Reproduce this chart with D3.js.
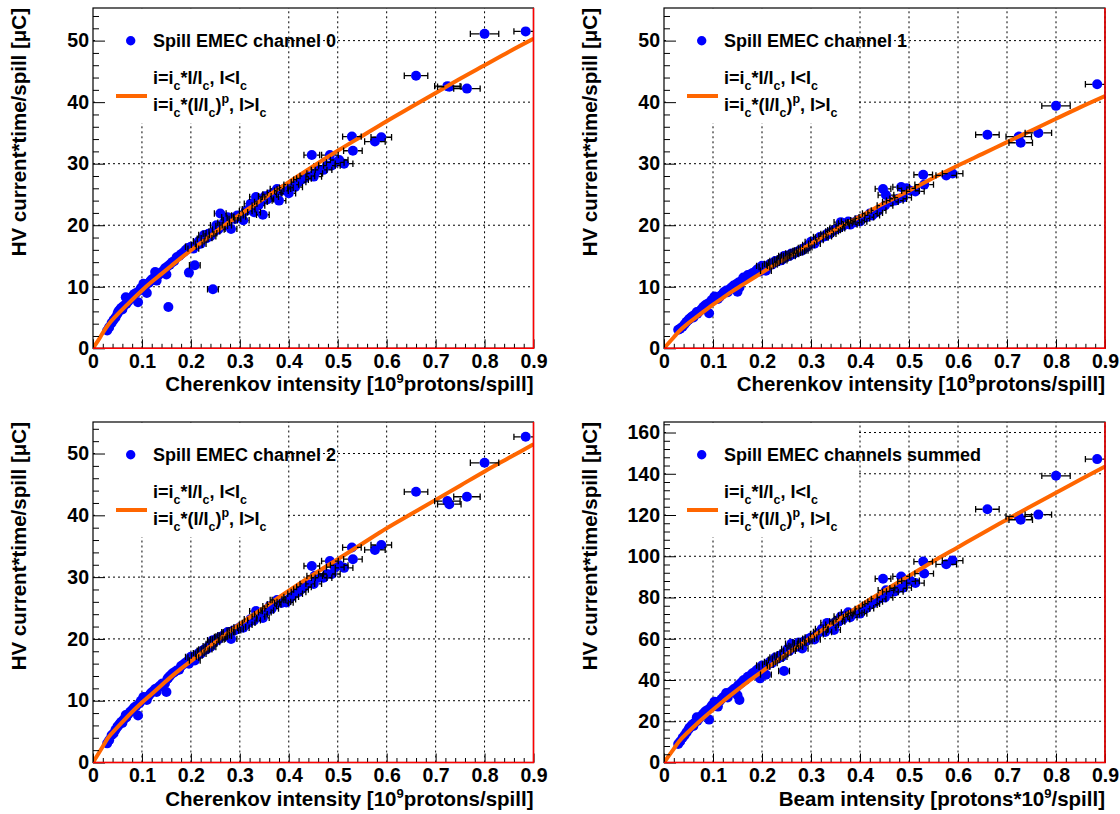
<!DOCTYPE html>
<html>
<head>
<meta charset="utf-8">
<script src="https://cdn.jsdelivr.net/npm/d3@7"></script>
<style>
  body { margin: 0; background: #fff; }
  svg text { font-family: "Liberation Sans", Arial, Helvetica, sans-serif; font-weight: bold; fill: #000; }
</style>
</head>
<body>
<svg id="chart" width="1120" height="814"></svg>
<script>
// spill intensities (same spills in every channel) and their horizontal errors
const intensity = [
  0.029,0.033,0.038,0.042,0.046,0.050,0.052,0.055,0.058,0.060,
  0.063,0.067,0.068,0.072,0.076,0.080,0.084,0.088,0.092,0.095,
  0.098,0.103,0.106,0.110,0.114,0.118,0.122,0.127,0.130,0.134,
  0.138,0.142,0.147,0.150,0.152,0.154,0.157,0.162,0.166,0.171,
  0.176,0.180,0.185,0.190,0.194,0.196,
  0.200,0.205,0.208,0.212,0.216,0.220,0.224,0.227,0.232,0.236,
  0.240,0.242,0.245,0.248,0.252,0.256,0.260,0.263,0.267,0.271,
  0.275,0.278,0.282,0.286,0.290,0.295,0.300,0.307,0.312,0.318,
  0.322,0.329,0.333,0.338,0.343,0.347,0.351,0.356,0.361,0.365,
  0.370,0.376,0.380,0.385,0.390,0.395,0.400,0.405,0.413,0.420,
  0.425,0.431,0.438,0.447,0.451,0.453,0.462,0.471,0.478,0.484,
  0.488,0.495,0.503,0.513,0.529,0.531,0.576,0.589,0.660,0.724,
  0.728,0.764,0.800,0.884
];
const intensityErr = [
  0,0,0,0,0,0,0,0,0,0, 0,0,0,0,0,0,0,0,0,0,
  0,0,0,0,0,0,0,0,0,0, 0,0,0,0,0,0,0,0,0,0,
  0,0,0,0,0,0,
  0.011,0.011,0.011,0.011,0.011,0.011,0.011,0.011,0.011,0.011,
  0.011,0.011,0.011,0.011,0.012,0.012,0.012,0.012,0.012,0.012,
  0.012,0.012,0.012,0.012,0.012,0.012,0.012,0.012,0.013,0.013,
  0.013,0.013,0.013,0.013,0.013,0.013,0.013,0.013,0.014,0.014,
  0.014,0.014,0.014,0.014,0.014,0.014,0.014,0.015,0.015,0.015,
  0.015,0.015,0.015,0.016,0.016,0.016,0.016,0.017,0.017,0.017,
  0.017,0.018,0.018,0.018,0.019,0.019,0.021,0.021,0.024,0.026,
  0.024,0.027,0.029,0.024
];

// HV current*time per spill [uC]
const chan0 = [
  2.9,3.4,4.1,4.6,5.0,5.6,6.0,6.3,6.6,6.3, 6.9,8.3,7.2,7.6,8.0,8.4,8.8,9.0,7.5,9.4,
  9.8,10.5,10.0,9.0,10.6,11.0,11.3,12.4,11.0,11.9, 12.2,12.5,13.0,12.0,13.3,6.7,13.6,14.0,14.2,14.8,
  15.0,15.3,15.6,16.0,16.3,12.3,
  16.5,16.2,13.5,16.8,17.4,17.0,17.8,18.4,17.9,18.6,
  18.2,18.7,9.6,19.0,20.0,19.3,21.9,19.9,20.4,20.0,
  21.3,20.8,19.4,21.2,21.0,21.6,21.4,20.8,22.3,22.6,
  23.5,22.1,24.6,23.2,23.8,21.7,24.7,24.2,25.0,24.6,
  25.3,25.9,24.0,25.6,25.9,26.1,25.2,26.6,26.2,27.0,
  27.4,27.6,28.0,31.4,27.9,28.4,29.0,29.0,29.7,31.4,
  29.7,30.2,30.6,30.0,34.4,32.1,33.6,34.3,44.3,42.6,
  42.5,42.2,51.1,51.5
];
const chan1 = [
  3.0,3.2,3.5,3.9,4.3,4.6,4.8,5.0,5.2,5.0, 5.5,5.9,5.6,6.0,6.3,6.7,7.0,7.2,5.7,7.6,
  7.9,8.4,8.2,8.0,8.4,8.7,9.1,9.4,9.1,9.6, 9.9,10.2,10.4,9.2,10.7,9.9,10.9,11.5,11.4,11.9,
  12.0,12.2,12.4,12.8,13.0,12.5,
  13.4,13.2,12.6,13.4,13.7,13.6,13.9,14.2,14.1,14.4,
  14.3,14.6,15.0,14.8,15.1,15.0,15.4,15.3,15.5,15.6,
  15.8,15.9,15.9,16.3,16.4,16.8,17.3,17.0,17.6,18.1,
  18.0,18.2,18.6,18.6,19.0,19.2,19.4,19.5,20.5,19.9,
  20.3,20.6,20.1,20.4,20.5,20.8,20.6,21.1,21.3,21.9,
  21.6,22.0,22.4,25.9,23.2,24.9,23.8,24.0,24.3,26.2,
  24.5,26.0,25.6,25.5,28.2,26.6,28.1,28.4,34.7,34.4,
  33.4,35.0,39.4,42.9
];
const chan2 = [
  3.1,3.6,4.4,4.7,5.3,5.8,6.0,6.3,6.6,6.4, 7.0,7.7,7.3,7.8,8.2,8.5,8.9,9.1,7.6,9.6,
  10.0,10.6,10.3,10.1,10.8,11.2,11.5,11.9,11.4,12.2, 12.5,12.8,12.8,11.4,13.5,13.7,14.0,14.4,14.6,14.9,
  15.0,15.6,15.9,16.2,16.4,16.0,
  17.1,17.0,16.5,17.3,17.7,17.6,18.1,18.3,18.3,18.8,
  18.7,19.2,19.8,19.5,19.9,19.9,20.3,20.4,20.6,20.5,
  21.1,21.1,20.0,21.3,21.4,21.6,21.9,21.8,22.3,22.6,
  23.2,23.0,24.5,23.6,24.0,23.4,24.3,24.6,25.3,24.9,
  25.6,26.3,26.3,25.8,26.0,25.9,26.4,26.8,27.3,27.6,
  28.0,28.4,28.9,31.8,28.9,30.2,29.9,29.9,30.5,32.6,
  30.5,31.6,31.9,31.5,34.8,32.9,34.4,35.2,43.8,42.3,
  41.8,43.0,48.5,52.7
];
const chanSum = [
  9.0,10.2,12.0,13.2,14.6,16.0,16.8,17.6,18.4,17.7, 19.4,21.9,20.1,21.4,22.5,23.6,24.7,25.3,20.8,26.6,
  27.7,29.5,28.5,27.1,29.8,30.9,31.9,33.7,31.5,33.7, 34.6,35.5,36.2,32.6,37.5,30.3,38.5,39.9,40.2,41.6,
  42.0,43.1,43.9,45.0,45.7,40.8,
  47.0,46.4,42.6,47.5,48.8,48.2,49.8,50.9,50.3,51.8,
  51.2,52.5,44.4,53.3,55.0,54.2,57.6,55.6,56.5,56.1,
  58.2,57.8,55.3,58.8,58.8,60.0,60.6,59.6,62.2,63.3,
  64.7,63.3,67.7,65.4,66.8,64.3,68.4,68.3,70.8,69.4,
  71.2,72.8,70.4,71.8,72.4,72.8,72.2,74.5,74.8,76.5,
  77.0,78.0,79.3,89.1,80.0,83.5,82.7,82.9,84.5,90.2,
  84.7,87.8,88.1,87.0,97.4,91.6,96.1,97.9,122.8,119.3,
  117.7,120.2,139.0,147.1
];

// fitted curves
const fitIntensity = [0,0.01,0.02,0.03,0.05,0.07,0.10,0.12,0.14,0.16,0.18,0.20,0.25,0.30,0.35,0.40,0.45,0.50,0.55,0.60,0.65,0.70,0.75,0.80,0.85,0.90];
const fitChan0 = [0,1.2,2.5,3.7,5.5,7.1,9.4,10.8,12.1,13.4,14.7,15.9,18.9,21.7,24.4,27.0,29.6,32.1,34.5,36.9,39.2,41.5,43.8,46.0,48.2,50.3];
const fitChan1 = [0,0.9,1.8,2.7,4.1,5.3,7.1,8.2,9.3,10.3,11.3,12.3,14.7,17.0,19.3,21.4,23.6,25.6,27.7,29.7,31.6,33.5,35.4,37.3,39.2,41.0];
const fitChan2 = [0,1.3,2.6,3.9,5.7,7.4,9.7,11.1,12.5,13.9,15.2,16.4,19.5,22.4,25.1,27.8,30.4,32.9,35.4,37.9,40.2,42.5,44.8,47.1,49.3,51.5];
const fitSum = [0,3.3,6.6,10.0,14.9,19.4,25.6,29.6,33.4,37.1,40.7,44.1,52.6,60.6,68.4,76.0,83.4,90.5,97.6,104.4,111.2,117.8,124.4,130.8,137.2,143.5];

// tick labels
const xTickLabels = ['0','0.1','0.2','0.3','0.4','0.5','0.6','0.7','0.8','0.9'];
const legendNames = ['Spill EMEC channel 0','Spill EMEC channel 1','Spill EMEC channel 2','Spill EMEC channels summed'];

const cherenkovTitle = ['Cherenkov intensity [10', '9', 'protons/spill]'];
const beamTitle = ['Beam intensity [protons*10', '9', '/spill]'];

const svg = d3.select('#chart');

const panels = [
  {left: 93,  right: 533.5, top: 8,   bottom: 348.3, yMax: 55.3, yStep: 10, yMinor: 2, values: chan0,   fit: fitChan0, name: legendNames[0], xTitle: cherenkovTitle},
  {left: 664, right: 1105,  top: 8,   bottom: 348.3, yMax: 55.3, yStep: 10, yMinor: 2, values: chan1,   fit: fitChan1, name: legendNames[1], xTitle: cherenkovTitle},
  {left: 93,  right: 533.5, top: 422, bottom: 762.5, yMax: 55.1, yStep: 10, yMinor: 2, values: chan2,   fit: fitChan2, name: legendNames[2], xTitle: cherenkovTitle},
  {left: 664, right: 1105,  top: 422, bottom: 762.5, yMax: 165.1, yStep: 20, yMinor: 4, values: chanSum, fit: fitSum,   name: legendNames[3], xTitle: beamTitle}
];

panels.forEach((p, i) => drawPanel(p, i));

function drawPanel(p, idx) {
  const x = d3.scaleLinear().domain([0, 0.9]).range([p.left, p.right]);
  const y = d3.scaleLinear().domain([0, p.yMax]).range([p.bottom, p.top]);
  const g = svg.append('g');

  //clip everything to the frame
  const clipId = 'frame' + idx;
  svg.append('clipPath').attr('id', clipId)
    .append('rect')
      .attr('x', p.left).attr('y', p.top)
      .attr('width', p.right - p.left).attr('height', p.bottom - p.top);

  const xMajor = d3.range(10).map(k => k / 10);
  const xMinor = d3.range(46).map(k => k / 50);
  const yMajor = d3.range(0, p.yMax, p.yStep);
  const yMinor = d3.range(0, p.yMax, p.yMinor);

  //dotted grid
  const grid = g.append('g')
    .attr('stroke', '#000')
    .attr('stroke-width', 1)
    .attr('stroke-dasharray', '2,3');
  grid.selectAll('.gx')
    .data(xMajor.filter(v => v > 0))
    .enter().append('line')
      .attr('x1', d => x(d)).attr('x2', d => x(d))
      .attr('y1', p.bottom).attr('y2', p.top);
  grid.selectAll('.gy')
    .data(yMajor.filter(v => v > 0))
    .enter().append('line')
      .attr('y1', d => y(d)).attr('y2', d => y(d))
      .attr('x1', p.left).attr('x2', p.right);

  const pts = intensity.map((v, k) => ({I: v, e: intensityErr[k], Q: p.values[k]}));
  const data = g.append('g').attr('clip-path', `url(#${clipId})`);
  const r = 5;

  //markers
  data.append('g').selectAll('circle')
    .data(pts)
    .enter().append('circle')
      .attr('cx', d => x(d.I))
      .attr('cy', d => y(d.Q))
      .attr('r', r)
      .attr('fill', '#0000ff');

  //fit line
  const line = d3.line()
    .x((d, k) => x(fitIntensity[k]))
    .y(d => y(d))
    .curve(d3.curveMonotoneX);
  data.append('path')
    .datum(p.fit)
    .attr('fill', 'none')
    .attr('stroke', '#ff6600')
    .attr('stroke-width', 4)
    .attr('d', line);

  //horizontal error bars, not drawn inside the marker
  data.append('g').selectAll('path')
    .data(pts.filter(d => d.e > 0))
    .enter().append('path')
      .attr('fill', 'none')
      .attr('stroke', '#000')
      .attr('stroke-width', 1.3)
      .attr('d', d => {
        const cx = x(d.I), cy = y(d.Q);
        const xl = x(d.I - d.e), xr = x(d.I + d.e);
        const path = d3.path();
        if (xr - cx > r) {
          path.moveTo(xl, cy); path.lineTo(cx - r, cy);
          path.moveTo(cx + r, cy); path.lineTo(xr, cy);
        }
        path.moveTo(xl, cy - 3.2); path.lineTo(xl, cy + 3.2);
        path.moveTo(xr, cy - 3.2); path.lineTo(xr, cy + 3.2);
        return path.toString();
      });

  //legend box hides the grid behind it
  g.append('rect')
    .attr('x', p.left + 2)
    .attr('y', p.top + 2)
    .attr('width', x(0.4) - 2 - (p.left + 2))
    .attr('height', 113)
    .attr('fill', '#fff');

  g.append('circle')
    .attr('cx', p.left + 37.7)
    .attr('cy', p.top + 32.7)
    .attr('r', 4.7)
    .attr('fill', '#0000ff');
  g.append('text')
    .attr('x', p.left + 60)
    .attr('y', p.top + 39)
    .attr('font-size', '18px')
    .text(p.name);

  g.append('line')
    .attr('x1', p.left + 23).attr('x2', p.left + 54)
    .attr('y1', p.top + 88).attr('y2', p.top + 88)
    .attr('stroke', '#ff6600')
    .attr('stroke-width', 4);

  const formula1 = [['i=i'], ['c', 'sub'], ['*I/I'], ['c', 'sub'], [', I<I'], ['c', 'sub']];
  const formula2 = [['i=i'], ['c', 'sub'], ['*(I/I'], ['c', 'sub'], [')'], ['p', 'sup'], [', I>I'], ['c', 'sub']];
  writeFormula(g, p.left + 60, p.top + 76, formula1);
  writeFormula(g, p.left + 60, p.top + 102.5, formula2);

  //axes with inward ticks
  const yAxis = g.append('g')
    .attr('transform', `translate(${p.left},0)`)
    .call(d3.axisLeft(y).tickValues(yMajor).tickSizeInner(-12).tickSizeOuter(0).tickPadding(4).tickFormat(d3.format('d')));
  g.append('g')
    .attr('transform', `translate(${p.left},0)`)
    .call(d3.axisLeft(y).tickValues(yMinor.filter(v => v % p.yStep !== 0)).tickSizeInner(-6).tickSizeOuter(0).tickFormat(''))
    .select('.domain').remove();

  const xAxis = g.append('g')
    .attr('transform', `translate(0,${p.bottom})`)
    .call(d3.axisBottom(x).tickValues(xMajor).tickSizeInner(-9).tickSizeOuter(0).tickPadding(6).tickFormat((d, k) => xTickLabels[k]));
  g.append('g')
    .attr('transform', `translate(0,${p.bottom})`)
    .call(d3.axisBottom(x).tickValues(xMinor.filter((v, k) => k % 5 !== 0)).tickSizeInner(-4.5).tickSizeOuter(0).tickFormat(''))
    .select('.domain').remove();

  [yAxis, xAxis].forEach(a => {
    a.select('.domain').remove();
    a.selectAll('text')
      .attr('font-size', '19.5px')
      .attr('font-family', '"Liberation Sans", Arial, sans-serif')
      .attr('font-weight', 'bold');
  });
  g.selectAll('.tick line').attr('stroke', '#000').attr('stroke-width', 1);

  //frame
  g.append('rect')
    .attr('x', p.left).attr('y', p.top)
    .attr('width', p.right - p.left).attr('height', p.bottom - p.top)
    .attr('fill', 'none')
    .attr('stroke', '#000')
    .attr('stroke-width', 1.2);
  g.append('path')
    .attr('d', `M${p.left},${p.bottom}H${p.right}V${p.top}`)
    .attr('fill', 'none')
    .attr('stroke', '#ff0000')
    .attr('stroke-width', 1.5);

  //axis titles
  const xt = g.append('text')
    .attr('x', p.right)
    .attr('y', p.bottom + 43)
    .attr('text-anchor', 'end')
    .attr('font-size', '20.5px');
  xt.append('tspan').text(p.xTitle[0]);
  xt.append('tspan').attr('font-size', '13px').attr('dy', -8).text(p.xTitle[1]);
  xt.append('tspan').attr('dy', 8).text(p.xTitle[2]);

  g.append('text')
    .attr('transform', `translate(${p.left - 67},${p.top}) rotate(-90)`)
    .attr('text-anchor', 'end')
    .attr('font-size', '20.5px')
    .text('HV current*time/spill [\u03bcC]');
}

//writes a legend formula with small sub/superscripts
function writeFormula(g, x0, y0, parts) {
  const t = g.append('text')
    .attr('x', x0)
    .attr('y', y0)
    .attr('font-size', '18px');
  let shift = 0;
  parts.forEach(part => {
    let target = 0;
    if (part[1] === 'sub') target = 6;
    if (part[1] === 'sup') target = -8;
    t.append('tspan')
      .attr('dy', target - shift)
      .attr('font-size', part[1] ? '12.5px' : '18px')
      .text(part[0]);
    shift = target;
  });
}
</script>
</body>
</html>
